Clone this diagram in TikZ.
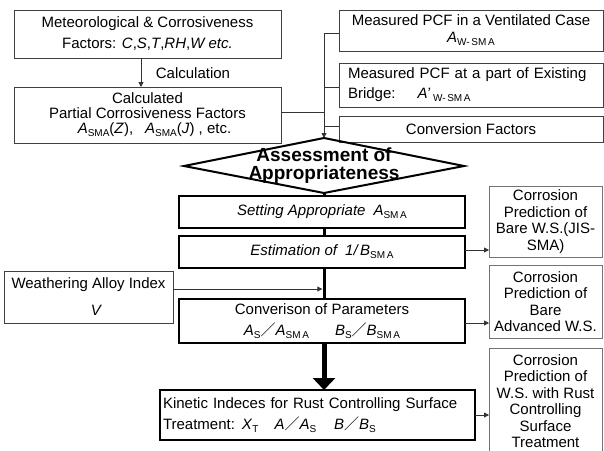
\documentclass[tikz,border=0pt]{standalone}
\usepackage{fontspec}
\setmainfont{Liberation Sans}
\newfontfamily\cjk{Noto Sans CJK JP}
\usetikzlibrary{arrows.meta}
\newcommand\sbx[1]{\raisebox{-3pt}{\fontsize{10}{10}\selectfont\upshape #1}}
\newcommand\slsh{{\cjk\fontsize{15}{15}\selectfont ／}}
\begin{document}
\begin{tikzpicture}[x=1pt,y=-1pt,
  every node/.style={inner sep=0pt, outer sep=0pt},
  txt/.style={font=\fontsize{15}{17}\selectfont, align=center},
  thinbox/.style={txt, draw=black!75, line width=0.9pt},
  sidebox/.style={txt, draw=black!55, line width=1pt, font=\fontsize{15}{16.5}\selectfont},
  thickbox/.style={txt, draw=black, line width=2.6pt},
  conn/.style={draw=black!80, line width=0.9pt},
  arr/.style={conn, -{Triangle[length=5pt,width=5pt]}},
  thk/.style={draw=black, line width=3pt},
  bigarr/.style={draw=black, line width=5pt, -{Triangle[length=12pt,width=22pt]}}
]
\clip (0,0) rectangle (604,450);
\fill[white] (0,0) rectangle (604,450);

% left top boxes
\node[thinbox, minimum width=267, minimum height=48, font=\fontsize{15}{21}\selectfont] (met) at (147.5,34)
  {Meteorological \& Corrosiveness\\Factors: \textit{C},\textit{S},\textit{T},\textit{RH},\textit{W etc.}};
\node[thinbox, minimum width=267, minimum height=56, font=\fontsize{15}{15}\selectfont] (calc) at (147.5,115)
  {Calculated\\Partial Corrosiveness Factors\\\hspace{14pt}\textit{A}\sbx{SMA}(\textit{Z}),\hspace{12pt}\textit{A}\sbx{SMA}(\textit{J}) , etc.};
\node[txt] (calclbl) at (193,73) {Calculation};

% right top boxes
\node[thinbox, minimum width=264, minimum height=41] (r1) at (471,30.5)
  {Measured PCF in a Ventilated Case\\\textit{A}\sbx{W-\,SM\,A}};
\node[thinbox, minimum width=264, minimum height=44, text width=246, align=left, font=\fontsize{15}{20}\selectfont] (r2) at (471,85)
  {Measured PCF at a part of Existing\\Bridge:\hspace{22pt}\textit{A'}\,\sbx{W-\,SM\,A}};
\node[thinbox, minimum width=264, minimum height=26] (r3) at (471,129)
  {Conversion Factors};

% diamond
\coordinate (dtop) at (324,138);
\coordinate (dright) at (464,166);
\coordinate (dbot) at (324,193);
\coordinate (dleft) at (184,166);
\draw[black, line width=2pt, line join=miter] (dtop) -- (dright) -- (dbot) -- (dleft) -- cycle;
\node[align=center, font=\bfseries\fontsize{19}{18}\selectfont] (assess) at (324,166)
  {Assessment of\\Appropriateness};

% central boxes
\node[thickbox, minimum width=286, minimum height=32] (setting) at (322,212)
  {\textit{Setting Appropriate\hspace{8pt}A}\sbx{SM\,A}};
\node[thickbox, minimum width=286, minimum height=32] (estim) at (322,252)
  {\textit{Estimation of\hspace{8pt}1/\,B}\sbx{SM\,A}};
\node[thickbox, minimum width=286, minimum height=44, font=\fontsize{15}{21}\selectfont] (conv) at (322,321)
  {Converison of Parameters\\\textit{A}\sbx{S}\slsh\textit{A}\sbx{SM\,A}\hspace{26pt}\textit{B}\sbx{S}\slsh\textit{B}\sbx{SM\,A}};
\node[thickbox, minimum width=315, minimum height=50, text width=309, align=left, font=\fontsize{15}{21}\selectfont] (kin) at (317.5,415)
  {Kinetic Indeces for Rust Controlling Surface\\Treatment:\hspace{7pt}\textit{X}\sbx{T}\hspace{16pt}\textit{A}\slsh\textit{A}\sbx{S}\hspace{18pt}\textit{B}\slsh\textit{B}\sbx{S}};
\node[thinbox, minimum width=169, minimum height=52] (walloy) at (88.5,297)
  {Weathering Alloy Index\\[10pt]\hspace{16pt}\textit{V}};

% right side boxes
\node[sidebox, minimum width=113, minimum height=71] (bare) at (545.5,221.5)
  {Corrosion\\Prediction of\\Bare W.S.(JIS-\\SMA)};
\node[sidebox, minimum width=113, minimum height=73] (adv) at (545.5,301.5)
  {Corrosion\\Prediction of\\Bare\\Advanced W.S.};
\node[sidebox, minimum width=113, minimum height=106] (treat) at (545.5,401)
  {Corrosion\\Prediction of\\W.S. with Rust\\Controlling\\Surface\\Treatment};

% connectors top
\coordinate (ax) at (141,0);
\draw[arr] (met.south -| ax) -- (calc.north -| ax);
\coordinate (tt) at (324,33);
\coordinate (tb2) at (324,87);
\coordinate (tb3) at (324,126);
\coordinate (tc) at (324,112);
\draw[conn] (tc -| calc.east) -- (tc);
\draw[arr] (tt) -- (dtop);
\draw[conn] (tt) -- (tt -| r1.west);
\draw[conn] (tb2) -- (tb2 -| r2.west);
\draw[conn] (tb3) -- (tb3 -| r3.west);

% central spine
\draw[thk] (dbot) -- (setting.north -| dbot);
\draw[thk] (setting.south -| dbot) -- (estim.north -| dbot);
\draw[thk] (estim.south -| dbot) -- (conv.north -| dbot);
\coordinate (wj) at (322.3,289);
\draw[arr] (walloy.east |- wj) -- (wj);
\draw[bigarr] (conv.south -| dbot) -- (kin.north -| dbot);

% side arrows
\coordinate (s1) at (0,250);
\coordinate (s2) at (0,323);
\coordinate (s3) at (0,415);
\draw[arr] (estim.east |- s1) -- (bare.west |- s1);
\draw[arr] (conv.east |- s2) -- (adv.west |- s2);
\draw[arr] (kin.east |- s3) -- (treat.west |- s3);
\end{tikzpicture}
\end{document}
